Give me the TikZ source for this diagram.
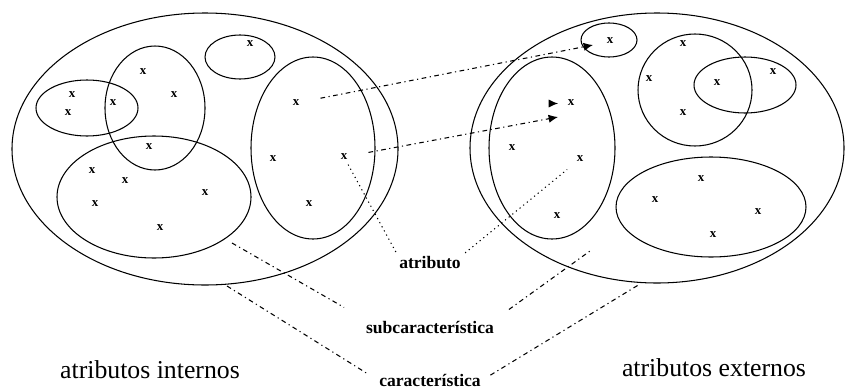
\documentclass[tikz,border=0pt]{standalone}
\usepackage{fontspec}
\setmainfont{Liberation Serif}
\usetikzlibrary{arrows.meta}

\begin{document}
\begin{tikzpicture}[
  >={Latex[length=8pt,width=7pt]}, x=0.03cm, y=-0.03cm, line width=0.9pt,
  xmark/.style={inner sep=0pt,font=\bfseries\fontsize{11}{11}\selectfont},
  link/.style={line width=0.9pt,dash pattern=on 4pt off 3pt on 1pt off 3pt},
  dots/.style={line width=0.9pt,dash pattern=on 1pt off 3pt},
  tag/.style={inner sep=1pt,font=\bfseries\fontsize{15}{15}\selectfont},
  side/.style={font=\fontsize{22}{22}\selectfont}]
\useasboundingbox (0,0) rectangle (846,390);
% internal attributes
\draw (205,149) ellipse [x radius=193,y radius=136];
\draw (240,57) ellipse [x radius=35,y radius=22];
\draw (155,108) ellipse [x radius=50,y radius=62];
\draw (87,108) ellipse [x radius=51,y radius=28];
\draw (154,197) ellipse [x radius=97,y radius=61];
\draw (313,148) ellipse [x radius=62,y radius=91];
\foreach \n/\x/\y in {l1/250/44,l2/143/72,l3/72/95,l4/68/113,l5/113/103,
    l6/174/95,l7/149/147,l8/92/171,l9/125/181,l10/95/204,l11/205/193,
    l12/160/228,l13/296/103,l14/273/159,l15/344/157,l16/309/204}
  \node[xmark] (\n) at (\x,\y) {x};
% external attributes
\draw (657,148) ellipse [x radius=187,y radius=135];
\draw (609,40) ellipse [x radius=28,y radius=17];
\draw (552,148) ellipse [x radius=63,y radius=91];
\draw (695,90) ellipse [x radius=57,y radius=56];
\draw (745,85) ellipse [x radius=51,y radius=28];
\draw (711,207) ellipse [x radius=95,y radius=50];
\foreach \n/\x/\y in {r1/610/41,r2/683/44,r3/649/79,r4/717/83,r5/773/72,
    r6/683/113,r7/571/103,r8/512/148,r9/580/159,r10/557/216,r11/701/179,
    r12/655/200,r13/758/212,r14/713/235}
  \node[xmark] (\n) at (\x,\y) {x};
% labels
\node[side] (int) at (150,370) {atributos internos};
\node[side] (ext) at (714,368) {atributos externos};
\node[tag] (atr) at (430,263) {atributo};
\node[tag] (sub) at (430,327) {subcaracterística};
\node[tag] (car) at (430,380) {característica};
% mapping arrows
\coordinate (tipA) at (593,45);
\coordinate (tipB) at (558,117);
\coordinate (tailC) at (550,103.5);
\coordinate (tipC) at (558,103.5);
\draw[link,->,shorten <=18pt] (l13) -- (tipA);
\draw[link,->,shorten <=18pt] (l15) -- (tipB);
\draw[->] (tailC) -- (tipC);
% pointers to the labels
\coordinate (subL) at (232,243);
\coordinate (subR) at (590,251);
\coordinate (carL) at (227,286);
\coordinate (carR) at (640,284);
\draw[dots,shorten <=4pt,shorten >=3pt] (l15) -- (atr.north west);
\draw[dots,shorten <=3pt,shorten >=10pt] (atr.north east) -- (r9);
\draw[link,shorten >=20pt] (subL) -- (sub.north west);
\draw[link,shorten <=14pt] (sub.north east) -- (subR);
\draw[link,shorten >=10pt] (carL) -- (car.west);
\draw[link,shorten <=8pt] (car.east) -- (carR);
\end{tikzpicture}
\end{document}
